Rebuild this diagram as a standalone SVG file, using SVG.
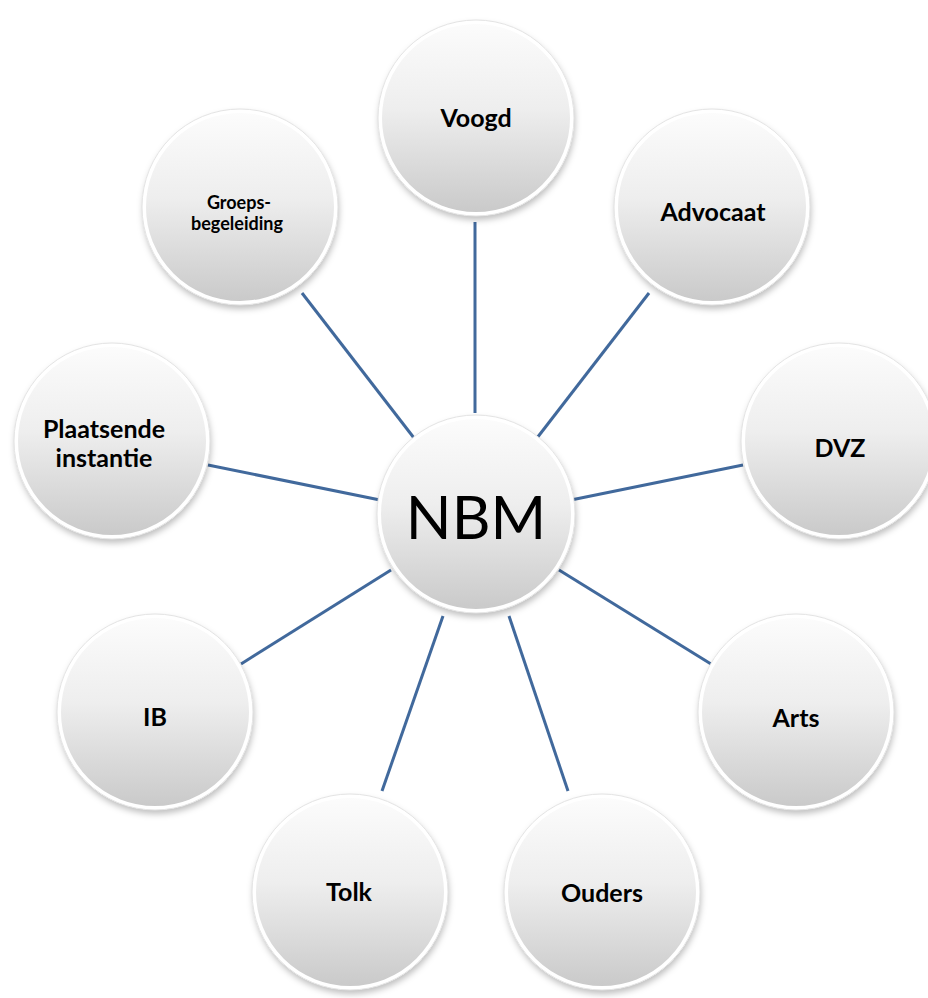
<svg xmlns="http://www.w3.org/2000/svg" width="928" height="998" viewBox="0 0 928 998">
  <defs>
    <linearGradient id="ballGrad" x1="0" y1="0" x2="0" y2="1">
      <stop offset="0" stop-color="#fcfcfc"/>
      <stop offset="0.45" stop-color="#eeeeee"/>
      <stop offset="1" stop-color="#c9c9c9"/>
    </linearGradient>
    <filter id="shadow" x="-20%" y="-20%" width="140%" height="150%">
      <feDropShadow dx="1" dy="4" stdDeviation="3" flood-color="#000" flood-opacity="0.25"/>
    </filter>
  </defs>
  <style>
    .ball { fill: url(#ballGrad); stroke: #ffffff; stroke-width: 4; filter: url(#shadow); }
    .rim { fill: none; stroke: #e4e4e4; stroke-width: 1; }
    .link { stroke: #41699c; stroke-width: 3; fill: none; stroke-linecap: butt; }
    .lbl { font-family: Lato, "Open Sans", "Liberation Sans", sans-serif; font-weight: bold; font-size: 25px; fill: #000; text-anchor: middle; dominant-baseline: central; }
    .small { font-size: 18px; }
    .big { font-family: Lato, "Open Sans", "Liberation Sans", sans-serif; font-weight: normal; font-size: 60px; fill: #000; text-anchor: middle; dominant-baseline: central; }
  </style>
  <rect width="928" height="998" fill="#ffffff"/>

  <g id="connectors">
    <line class="link" x1="475" y1="222" x2="475" y2="413"/>
    <line class="link" x1="302" y1="293" x2="414" y2="438"/>
    <line class="link" x1="649" y1="293" x2="537" y2="438"/>
    <line class="link" x1="208" y1="465" x2="380" y2="500"/>
    <line class="link" x1="743" y1="465" x2="571" y2="500"/>
    <line class="link" x1="241" y1="664" x2="391" y2="570"/>
    <line class="link" x1="711" y1="664" x2="559" y2="570"/>
    <line class="link" x1="382" y1="791" x2="443" y2="616"/>
    <line class="link" x1="568" y1="791" x2="509" y2="616"/>
  </g>

  <g id="nbm">
    <circle class="ball" cx="476" cy="514" r="97"/>
    <circle class="rim" cx="476" cy="514" r="99"/>
    <text class="big" x="476" y="516">NBM</text>
  </g>
  <g id="voogd">
    <circle class="ball" cx="476" cy="118" r="96"/>
    <circle class="rim" cx="476" cy="118" r="98"/>
    <text class="lbl" x="476" y="117">Voogd</text>
  </g>
  <g id="groepsbegeleiding">
    <circle class="ball" cx="240" cy="207" r="96"/>
    <circle class="rim" cx="240" cy="207" r="98"/>
    <text class="lbl small" x="239" y="202">Groeps-</text>
    <text class="lbl small" x="237" y="223">begeleiding</text>
  </g>
  <g id="advocaat">
    <circle class="ball" cx="712" cy="207" r="96"/>
    <circle class="rim" cx="712" cy="207" r="98"/>
    <text class="lbl" x="713" y="211">Advocaat</text>
  </g>
  <g id="plaatsende">
    <circle class="ball" cx="112" cy="441" r="96"/>
    <circle class="rim" cx="112" cy="441" r="98"/>
    <text class="lbl" x="104" y="428">Plaatsende</text>
    <text class="lbl" x="104" y="457">instantie</text>
  </g>
  <g id="dvz">
    <circle class="ball" cx="839" cy="441" r="96"/>
    <circle class="rim" cx="839" cy="441" r="98"/>
    <text class="lbl" x="840" y="447">DVZ</text>
  </g>
  <g id="ib">
    <circle class="ball" cx="155" cy="712" r="96"/>
    <circle class="rim" cx="155" cy="712" r="98"/>
    <text class="lbl" x="155" y="716">IB</text>
  </g>
  <g id="arts">
    <circle class="ball" cx="796" cy="712" r="96"/>
    <circle class="rim" cx="796" cy="712" r="98"/>
    <text class="lbl" x="796" y="717">Arts</text>
  </g>
  <g id="tolk">
    <circle class="ball" cx="350" cy="892" r="96"/>
    <circle class="rim" cx="350" cy="892" r="98"/>
    <text class="lbl" x="349" y="891">Tolk</text>
  </g>
  <g id="ouders">
    <circle class="ball" cx="602" cy="892" r="96"/>
    <circle class="rim" cx="602" cy="892" r="98"/>
    <text class="lbl" x="602" y="892">Ouders</text>
  </g>
</svg>
